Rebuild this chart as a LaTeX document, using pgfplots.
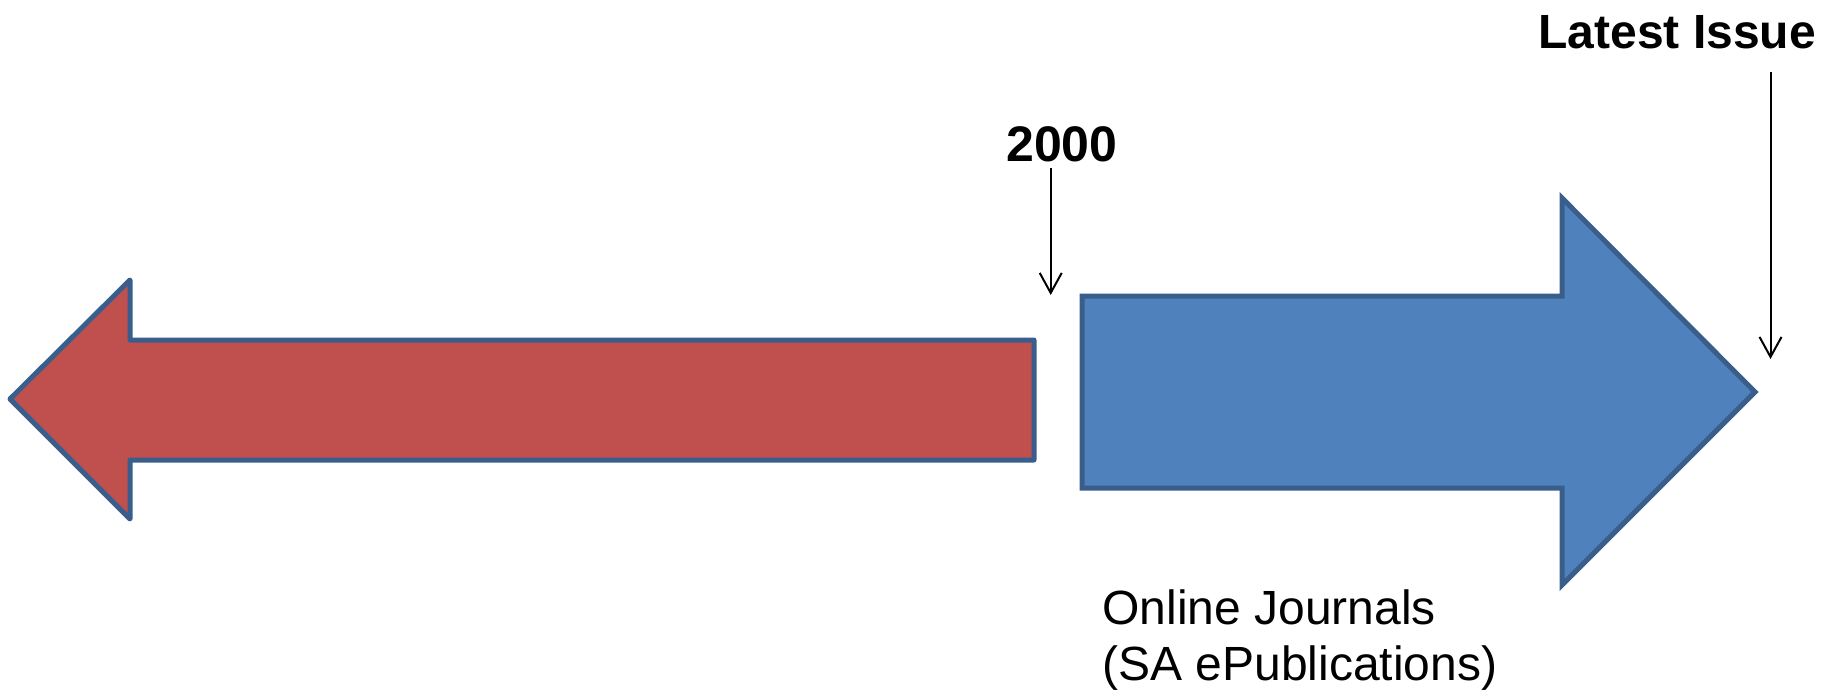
\documentclass[border=0pt]{standalone}
\usepackage{fontspec}
\setmainfont{Liberation Sans}
\usepackage{pgfplots}
\pgfplotsset{compat=1.18}
\usetikzlibrary{arrows.meta}
\definecolor{redfill}{HTML}{C0504D}
\definecolor{bluefill}{HTML}{4F81BD}
\definecolor{outl}{HTML}{3A5E8C}
\begin{document}
\begin{tikzpicture}
\begin{axis}[hide axis, scale only axis, width=911bp, height=347bp,
  xmin=0, xmax=1822, ymin=0, ymax=694, y dir=reverse, enlargelimits=false, clip=false]
\addplot[draw=none] coordinates {(0,0) (1822,694)};
% red left arrow
\addplot[fill=redfill, draw=outl, line width=2.5bp, line join=round] coordinates {
 (10,399) (130,280) (130,340) (1034,340) (1034,460) (130,460) (130,519)} -- cycle;
% blue right arrow
\addplot[fill=bluefill, draw=outl, line width=2.5bp, line join=miter] coordinates {
 (1082,296) (1562,296) (1562,198) (1755,392) (1562,585) (1562,488) (1082,488)} -- cycle;
% pointer arrows
\addplot[black, line width=1bp, -{Straight Barb[length=10bp,width=11bp]}] coordinates {(1050.7,168) (1050.7,295)};
\addplot[black, line width=1bp, -{Straight Barb[length=10bp,width=11bp]}] coordinates {(1770.5,72) (1770.5,359)};
% labels
\node[anchor=base west, inner sep=0pt, font=\fontsize{24bp}{29bp}\selectfont\bfseries] at (axis cs:1538,49) {Latest Issue};
\node[anchor=base, inner sep=0pt, font=\fontsize{25bp}{30bp}\selectfont\bfseries] at (axis cs:1062,161) {2000};
\node[anchor=base west, inner sep=0pt, font=\fontsize{24bp}{29bp}\selectfont] at (axis cs:1102,624) {Online Journals};
\node[anchor=base west, inner sep=0pt, font=\fontsize{24bp}{29bp}\selectfont] at (axis cs:1102,680) {(SA ePublications)};
\end{axis}
\end{tikzpicture}
\end{document}
